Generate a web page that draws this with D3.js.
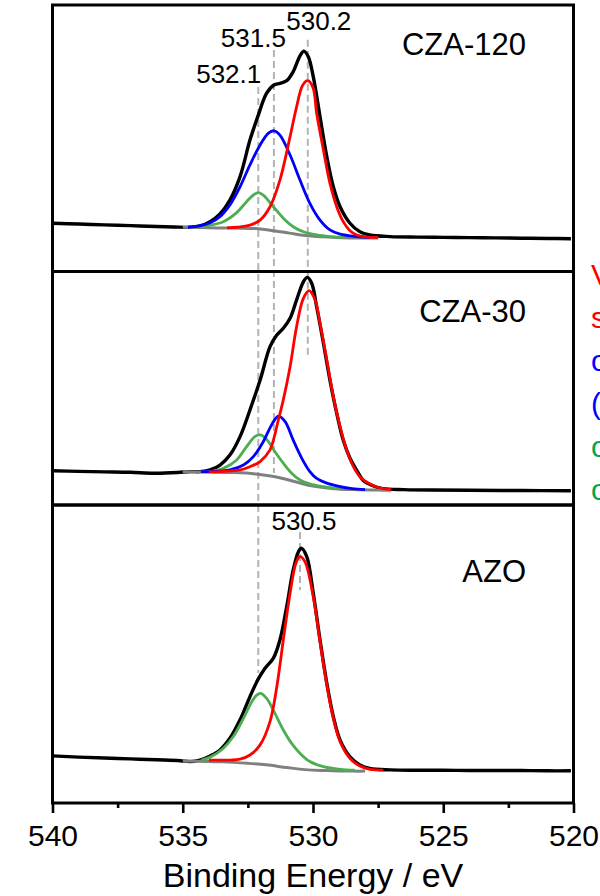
<!DOCTYPE html>
<html>
<head>
<meta charset="utf-8">
<script src="https://cdn.jsdelivr.net/npm/d3@7"></script>
<style>
  html, body { margin: 0; padding: 0; background: #fff; }
  svg { display: block; }
  text { font-family: "Liberation Sans", Arial, Helvetica, sans-serif; }
</style>
</head>
<body>
<svg id="chart" width="600" height="896"></svg>
<script>
// ---- O 1s spectra: binding energy (eV) vs. intensity (a.u., per panel) ----
const energyTicks = [540, 535, 530, 525, 520];
const energyMinorTicks = [537.5, 532.5, 527.5, 522.5];
const sampleNames = ["CZA-120", "CZA-30", "AZO"];
const cza120Peaks = [532.1, 531.5, 530.2];
const azoPeaks = [530.5];
const legendLabels = ["V", "s", "o", "(", "o", "o"];

// CZA-120
const cza120Raw = [[540.0,18.1],[539.0,17.8],[538.0,17.5],[537.0,17.2],[536.0,16.9],[535.3,16.7],[534.7,16.6],[534.34,17.1],[533.95,18.7],[533.57,21.6],[533.19,26.8],[532.80,35.6],[532.42,49.3],[532.12,58.1],[531.78,66.9],[531.50,70.0],[531.27,70.6],[531.01,71.6],[530.76,75.0],[530.50,80.9],[530.35,82.7],[530.18,80.6],[529.99,73.1],[529.73,58.1],[529.47,43.1],[529.22,31.8],[528.96,24.3],[528.58,18.1],[528.20,14.9],[527.82,13.7],[527.04,13.1],[526.0,12.9],[525.0,12.8],[524.0,12.7],[523.0,12.6],[522.0,12.5],[521.0,12.4],[520.1,12.3]];
const cza120Lattice = [[533.3,16.4],[532.9,16.6],[532.42,17.4],[532.03,19.3],[531.65,24.3],[531.27,34.3],[530.88,50.6],[530.63,61.8],[530.40,69.8],[530.2,71.6],[530.0,69.0],[529.86,59.4],[529.60,45.6],[529.35,33.1],[529.09,24.3],[528.84,18.7],[528.58,15.3],[528.32,13.7],[527.9,12.9],[527.5,12.7]];
const cza120Vacancy = [[534.8,16.6],[534.34,17.1],[533.95,18.3],[533.57,20.6],[533.19,25.0],[532.80,31.8],[532.42,40.0],[532.03,47.5],[531.71,51.9],[531.5,52.8],[531.27,51.2],[530.88,43.7],[530.50,34.3],[530.12,25.6],[529.73,19.3],[529.35,15.6],[528.96,14.0],[528.32,13.1],[527.8,12.8]];
const cza120Hydroxyl = [[534.5,16.6],[533.95,17.4],[533.44,18.7],[532.93,22.1],[532.55,26.2],[532.29,28.7],[532.1,29.6],[531.91,28.7],[531.52,24.3],[531.14,20.0],[530.76,16.8],[530.37,14.9],[529.86,13.7],[529.35,13.1],[528.8,12.8]];
const cza120Background = [[535.0,16.6],[534.0,16.4],[533.0,16.3],[532.2,16.1],[531.5,15.3],[530.9,14.4],[530.3,13.5],[529.6,13.0],[528.9,12.7],[528.0,12.6],[527.5,12.6]];

// CZA-30
const cza30Raw = [[540.0,14.7],[539.0,14.4],[538.0,14.2],[537.0,14.0],[536.1,13.6],[535.2,13.9],[534.72,14.3],[534.34,14.3],[533.95,15.0],[533.57,17.1],[533.19,21.4],[532.80,29.3],[532.42,40.7],[532.03,53.5],[531.65,67.8],[531.39,72.8],[531.14,75.7],[530.88,80.0],[530.63,87.8],[530.37,95.6],[530.22,97.5],[530.05,95.0],[529.86,84.9],[529.60,69.3],[529.35,53.5],[529.09,39.3],[528.84,27.8],[528.58,20.0],[528.33,15.0],[528.07,10.5],[527.82,8.8],[527.32,7.0],[526.5,6.6],[525.5,6.4],[524.0,6.3],[522.0,6.2],[520.1,6.1]];
const cza30Lattice = [[534.0,14.2],[533.57,14.3],[532.80,15.0],[532.42,16.4],[532.03,18.6],[531.65,23.6],[531.52,27.8],[531.33,36.4],[531.14,45.0],[530.88,59.2],[530.63,76.4],[530.37,88.5],[530.15,91.8],[529.92,87.8],[529.73,77.8],[529.47,62.1],[529.22,46.4],[528.96,33.5],[528.71,23.6],[528.45,16.4],[528.20,12.1],[527.9,9.5],[527.5,7.5],[527.0,6.6]];
const cza30Vacancy = [[534.3,14.3],[533.95,14.3],[533.19,15.0],[532.67,17.1],[532.29,20.7],[531.91,27.1],[531.59,34.3],[531.33,38.1],[531.07,35.7],[530.76,27.8],[530.43,20.0],[530.12,14.3],[529.86,11.4],[529.5,9.5],[529.0,8.0],[528.5,7.0],[528.0,6.6]];
const cza30Hydroxyl = [[534.3,14.3],[533.95,14.3],[533.44,15.7],[532.93,19.3],[532.55,25.0],[532.23,29.3],[532.01,30.0],[531.78,28.1],[531.46,22.8],[531.14,17.9],[530.82,13.6],[530.50,10.7],[530.1,9.0],[529.6,7.9],[529.0,7.0]];
const cza30Background = [[535.0,14.2],[534.0,14.1],[533.0,13.9],[532.2,13.3],[531.5,12.2],[531.0,10.9],[530.5,9.4],[530.0,8.1],[529.3,7.1],[528.5,6.6],[527.5,6.4],[527.0,6.3]];

// AZO
const azoRaw = [[540.0,15.8],[539.0,15.4],[538.0,15.1],[537.0,14.8],[536.0,14.5],[535.1,14.2],[534.72,13.9],[534.34,14.4],[533.95,15.8],[533.57,17.8],[533.19,21.7],[532.80,27.9],[532.42,35.7],[532.12,41.3],[531.84,45.2],[531.52,48.6],[531.27,54.7],[531.01,65.9],[530.76,78.2],[530.56,84.3],[530.45,85.5],[530.24,82.7],[529.99,70.4],[529.73,54.7],[529.47,40.2],[529.22,29.0],[528.96,21.1],[528.58,15.5],[528.20,12.8],[527.82,11.6],[527.04,11.1],[526.0,11.0],[525.0,11.0],[524.0,10.9],[523.0,10.9],[522.0,10.9],[521.0,10.8],[520.1,10.8]];
const azoLattice = [[534.0,14.4],[533.19,14.4],[532.80,14.7],[532.42,16.1],[532.03,19.5],[531.65,27.3],[531.39,39.0],[531.14,54.7],[530.88,70.4],[530.66,80.4],[530.5,82.7],[530.31,81.0],[529.99,69.2],[529.73,54.1],[529.47,39.6],[529.22,28.4],[528.96,20.6],[528.58,15.0],[528.20,12.4],[527.8,11.3],[527.3,11.0]];
const azoHydroxyl = [[534.3,14.3],[533.9,15.6],[533.44,18.4],[533.06,22.3],[532.67,28.4],[532.35,34.0],[532.16,36.2],[532.01,36.8],[531.78,35.1],[531.46,30.1],[531.14,24.5],[530.82,20.0],[530.50,16.7],[530.12,13.9],[529.60,12.2],[528.96,11.3],[528.4,11.0]];
const azoBackground = [[535.0,14.1],[534.0,13.9],[533.5,13.8],[532.5,13.3],[531.8,12.8],[531.0,11.9],[530.3,11.2],[529.5,10.9],[528.5,10.7],[528.0,10.7]];

// ---- layout ----
const FONT = '"Liberation Sans", Arial, Helvetica, sans-serif';
const frame = { left: 52.5, right: 573.5, tops: [5, 271.5, 505], bottom: 803 };
const colors = { raw: "#000", background: "#808080", lattice: "#ff0000", vacancy: "#0000ff", hydroxyl: "#4cae50" };

const svg = d3.select("#chart");
const x = d3.scaleLinear().domain([540, 520]).range([frame.left, frame.right]);

const panelSeries = [
  { raw: cza120Raw, bg: cza120Background, comps: [[cza120Hydroxyl, colors.hydroxyl], [cza120Vacancy, colors.vacancy], [cza120Lattice, colors.lattice]] },
  { raw: cza30Raw, bg: cza30Background, comps: [[cza30Hydroxyl, colors.hydroxyl], [cza30Vacancy, colors.vacancy], [cza30Lattice, colors.lattice]] },
  { raw: azoRaw, bg: azoBackground, comps: [[azoHydroxyl, colors.hydroxyl], [azoLattice, colors.lattice]] }
];

const panels = sampleNames.map((name, i) => {
  const top = frame.tops[i];
  const bottom = i < 2 ? frame.tops[i + 1] : frame.bottom;
  return { name, top, bottom, y: d3.scaleLinear().domain([0, 100]).range([bottom, top]), ...panelSeries[i] };
});

// dashed guides at the fitted peak positions (start/end given in panel intensity units)
const guides = [
  { e: cza120Peaks[0], from: [0, 69.2], to: [2, 43.6] },
  { e: cza120Peaks[1], from: [0, 83.1], to: [1, 13.7] },
  { e: cza120Peaks[2], from: [0, 87.0], to: [1, 64.2] },
  { e: azoPeaks[0],    from: [2, 90.9], to: [2, 71.5] }
];
svg.append("g").selectAll("line").data(guides).join("line")
  .attr("x1", d => x(d.e)).attr("x2", d => x(d.e))
  .attr("y1", d => panels[d.from[0]].y(d.from[1]))
  .attr("y2", d => panels[d.to[0]].y(d.to[1]))
  .attr("stroke", "#b4b4b4").attr("stroke-width", 2).attr("stroke-dasharray", "7,4");

const defs = svg.append("defs");
panels.forEach((p, i) => {
  defs.append("clipPath").attr("id", "clip" + i).append("rect")
    .attr("x", frame.left).attr("y", p.top).attr("width", frame.right - frame.left).attr("height", p.bottom - p.top);

  const line = d3.line().x(d => x(d[0])).y(d => p.y(d[1])).curve(d3.curveCatmullRom.alpha(0.5));
  const g = svg.append("g").attr("clip-path", `url(#clip${i})`);
  g.append("path").attr("d", line(p.raw)).attr("fill", "none").attr("stroke", colors.raw)
    .attr("stroke-width", 3.4).attr("stroke-linejoin", "round");
  g.append("path").attr("d", line(p.bg)).attr("fill", "none").attr("stroke", colors.background)
    .attr("stroke-width", 3);
  p.comps.forEach(([data, c]) => {
    g.append("path").attr("d", line(data)).attr("fill", "none").attr("stroke", c)
      .attr("stroke-width", 2.8).attr("stroke-linejoin", "round");
  });
});

// panel frames
svg.append("g").selectAll("rect").data(panels).join("rect")
  .attr("x", frame.left).attr("y", d => d.top)
  .attr("width", frame.right - frame.left).attr("height", d => d.bottom - d.top)
  .attr("fill", "none").attr("stroke", "#000").attr("stroke-width", 3);

// sample names
const nameBaselines = [55, 322, 582];
svg.append("g").selectAll("text").data(panels).join("text")
  .attr("x", 526).attr("y", (d, i) => nameBaselines[i])
  .attr("text-anchor", "end").attr("font-size", 31).attr("fill", "#000")
  .text(d => d.name);

// peak position labels
const fmt = d3.format(".1f");
const peakLabels = [
  { e: cza120Peaks[0], dx: 3, y: 83, anchor: "end" },
  { e: cza120Peaks[1], dx: 12, y: 47, anchor: "end" },
  { e: cza120Peaks[2], dx: 11, y: 30, anchor: "middle" },
  { e: azoPeaks[0], dx: 4, y: 530, anchor: "middle" }
];
svg.append("g").selectAll("text").data(peakLabels).join("text")
  .attr("x", d => x(d.e) + d.dx).attr("y", d => d.y)
  .attr("text-anchor", d => d.anchor).attr("font-size", 26).attr("fill", "#000")
  .text(d => fmt(d.e));

// bottom axis
const axisG = svg.append("g").attr("transform", `translate(0,${frame.bottom})`);
axisG.call(d3.axisBottom(x).tickValues(energyTicks).tickSize(10).tickPadding(6).tickFormat(d3.format("d")));
const minorG = svg.append("g").attr("transform", `translate(0,${frame.bottom})`);
minorG.call(d3.axisBottom(x).tickValues(energyMinorTicks).tickSize(5).tickFormat(""));
[axisG, minorG].forEach(g => {
  g.select(".domain").remove();
  g.selectAll(".tick line").attr("stroke", "#000").attr("stroke-width", 2.6);
});
axisG.selectAll(".tick text").attr("font-family", FONT).attr("font-size", 30).attr("fill", "#000")
  .attr("dy", null).attr("y", 43);

svg.append("text").attr("x", (frame.left + frame.right) / 2).attr("y", 887)
  .attr("text-anchor", "middle").attr("font-size", 34).attr("fill", "#000")
  .text("Binding Energy / eV");

// component legend at the right margin
const legendColors = [colors.lattice, colors.lattice, colors.vacancy, colors.vacancy, "#00a651", "#00a651"];
svg.append("g").selectAll("text").data(legendLabels).join("text")
  .attr("x", 591).attr("y", (d, i) => 285 + i * 43)
  .attr("font-size", 30).attr("fill", (d, i) => legendColors[i])
  .text(d => d);
</script>
</body>
</html>
